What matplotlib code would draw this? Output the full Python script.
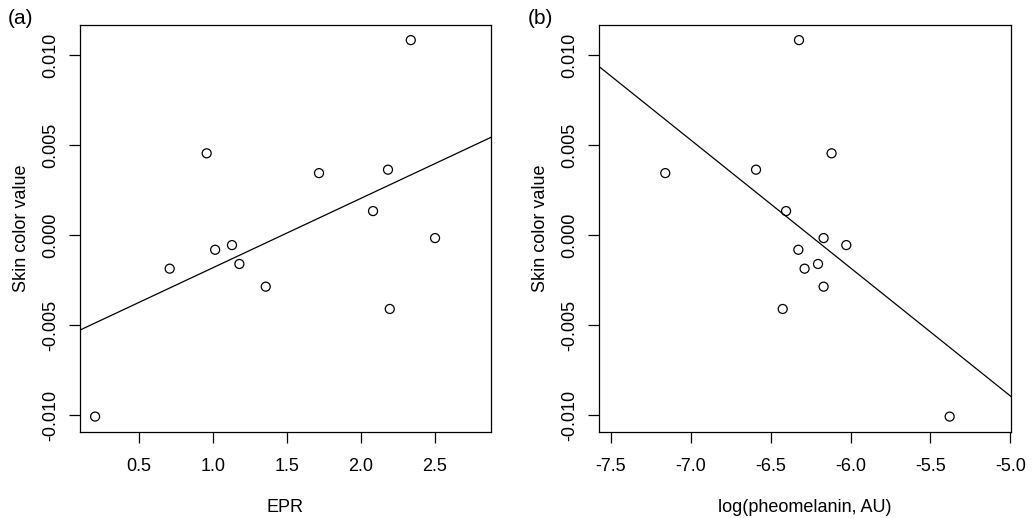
import numpy as np
import matplotlib
matplotlib.use("Agg")
import matplotlib.pyplot as plt

plt.rcParams['font.family'] = ['Liberation Sans', 'DejaVu Sans']

# skin colour values (same individuals in both panels)
skin = [-0.01009, -0.00187, 0.00454, -0.00082, -0.00056, -0.00161, -0.00287,
        0.00344, 0.00133, 0.00363, -0.00411, 0.01083, -0.00017]
epr = [0.203, 0.707, 0.957, 1.014, 1.128, 1.178, 1.356,
       1.716, 2.081, 2.182, 2.194, 2.336, 2.500]
pheo = [-5.380, -6.288, -6.119, -6.327, -6.027, -6.204, -6.169,
        -7.160, -6.404, -6.592, -6.425, -6.323, -6.169]

xticks_a = [0.5, 1.0, 1.5, 2.0, 2.5]
xticks_b = [-7.5, -7.0, -6.5, -6.0, -5.5, -5.0]
yticks = [-0.010, -0.005, 0.000, 0.005, 0.010]

W, H = 1032, 518
fig = plt.figure(figsize=(W / 100, H / 100), dpi=100)

def panel(box, x, y, xlim, xticks, xlab, tag):
    l, t, r, b = box
    ax = fig.add_axes([l / W, 1 - b / H, (r - l) / W, (b - t) / H])
    ax.scatter(x, y, s=42, facecolors='none', edgecolors='black', linewidths=0.9, zorder=3)
    # least squares line, like abline(lm(y ~ x))
    k, c = np.polyfit(x, y, 1)
    xx = np.array(xlim)
    ax.plot(xx, k * xx + c, color='black', lw=0.9)
    ax.set_xlim(xlim)
    ax.set_ylim(-0.01093, 0.01167)
    ax.set_xticks(xticks)
    ax.set_xticklabels(['%.1f' % v for v in xticks])
    ax.set_yticks(yticks)
    ax.set_yticklabels(['%.3f' % v for v in yticks], rotation=90, va='center')
    ax.tick_params(direction='out', length=8, width=0.9, labelsize=13)
    ax.tick_params(axis='x', pad=11)
    ax.tick_params(axis='y', pad=7)
    for s in ax.spines.values():
        s.set_linewidth(0.9)
    ax.set_xlabel(xlab, fontsize=13, labelpad=17)
    ax.set_ylabel('Skin color value', fontsize=13, labelpad=9)
    fig.text((l - 72) / W, 1 - 18 / H, tag, fontsize=15, va='center', ha='left')
    return ax

panel((80, 25, 491, 431.7), epr, skin, (0.101, 2.878), xticks_a, 'EPR', '(a)')
panel((599.3, 25, 1011, 431.7), pheo, skin, (-7.573, -4.996), xticks_b,
      'log(pheomelanin, AU)', '(b)')

fig.savefig('out.png', dpi=100)
